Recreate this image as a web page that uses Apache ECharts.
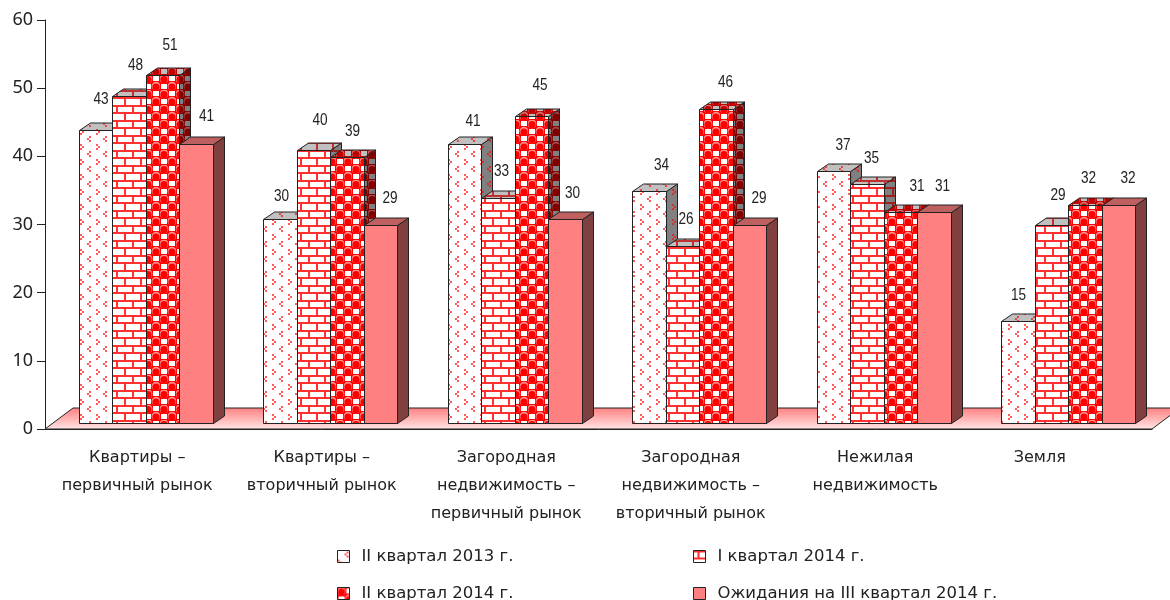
<!DOCTYPE html>
<html>
<head>
<meta charset="utf-8">
<style>
  html, body { margin: 0; padding: 0; background: #fff; }
  #chart { width: 1170px; height: 600px; }
</style>
<script src="https://cdn.jsdelivr.net/npm/echarts@6/dist/echarts.min.js"></script>
</head>
<body>
<div id="chart"></div>
<script>
const categories = [
  'Квартиры –\nпервичный рынок',
  'Квартиры –\nвторичный рынок',
  'Загородная\nнедвижимость –\nпервичный рынок',
  'Загородная\nнедвижимость –\nвторичный рынок',
  'Нежилая\nнедвижимость',
  'Земля'
];
const seriesNames = [
  'II квартал 2013 г.',
  'I квартал 2014 г.',
  'II квартал 2014 г.',
  'Ожидания на III квартал 2014 г.'
];
const q2y2013 = [43, 30, 41, 34, 37, 15];
const q1y2014 = [48, 40, 33, 26, 35, 29];
const q2y2014 = [51, 39, 45, 46, 31, 32];
const q3y2014 = [41, 29, 30, 29, 31, 32];
const yTicks = [0, 10, 20, 30, 40, 50, 60];

// сдвиг подписей от центра столбца, в оригинале они стоят неровно
const labelDx = [
  [5, 1, 8, 12, 9, 0],
  [6, 6, 3, 3, 4, 6],
  [7, 5, 8, 9, 16, 3],
  [10, 9, 7, 9, 8, 9]
];
const labelDy = [
  [-31, -23, -23, -26, -26, -26],
  [-31, -30, -27, -27, -26, -30],
  [-30, -26, -31, -27, -26, -27],
  [-28, -27, -26, -27, -26, -27]
];

const BAR_RATIO = 0.1815;   // ширина столбца к ширине категории
const GROUP_START = -58;    // начало группы от центра категории
const DEPTH_X = 11;
const DEPTH_Y = 7.5;
const FLOOR_RISE = 6;       // передний край столбцов выше оси
const FLOOR_DEPTH = 21;
const FLOOR_SKEW = 28;

function tile(w, h, draw) {
  const c = document.createElement('canvas');
  c.width = w;
  c.height = h;
  draw(c.getContext('2d'));
  return { image: c, repeat: 'repeat' };
}

function chevrons(bg, fg) {
  return tile(16, 15, (g) => {
    g.fillStyle = bg;
    g.fillRect(0, 0, 16, 15);
    g.fillStyle = fg;
    // три точки уголком влево и вправо
    g.fillRect(9, 1, 2, 2);
    g.fillRect(7, 3, 2, 2);
    g.fillRect(9, 5, 2, 2);
    g.fillRect(0, 9, 2, 2);
    g.fillRect(2, 11, 2, 2);
    g.fillRect(0, 13, 2, 2);
  });
}

function bricks(bg, fg) {
  return tile(16, 15, (g) => {
    g.fillStyle = bg;
    g.fillRect(0, 0, 16, 15);
    g.fillStyle = fg;
    g.fillRect(0, 0, 16, 2);
    g.fillRect(0, 7, 16, 2);
    g.fillRect(4, 2, 2, 5);
    g.fillRect(12, 9, 2, 6);
  });
}

function balls(square, fg, shine) {
  return tile(16, 15, (g) => {
    g.fillStyle = fg;
    g.fillRect(0, 0, 16, 15);
    g.fillStyle = square;
    g.fillRect(9, 1, 6, 5);
    g.fillRect(1, 9, 6, 5);
    [[4, 3.8], [12, 11.2]].forEach((p) => {
      g.fillStyle = shine;
      g.beginPath();
      g.arc(p[0], p[1], 4.4, 0, Math.PI * 2);
      g.fill();
      g.fillStyle = fg;
      g.beginPath();
      g.arc(p[0], p[1] + 0.8, 3.6, 0, Math.PI * 2);
      g.fill();
    });
  });
}

const faces = [
  { front: chevrons('#ffffff', '#ff5a5a'), top: chevrons('#c0c0c0', '#e04848'), side: chevrons('#808080', '#d03030') },
  { front: bricks('#ffffff', '#ff3030'), top: bricks('#c0c0c0', '#c03030'), side: bricks('#808080', '#a02020') },
  { front: balls('#ffffff', '#ff0000', '#ff9090'), top: balls('#c0c0c0', '#c00000', '#d87070'), side: balls('#808080', '#800000', '#a05050') },
  { front: '#ff8080', top: '#bf6060', side: '#804040' }
];

function barRenderer(seriesIndex) {
  return function (params, api) {
    const idx = api.value(0);
    const val = api.value(1);
    const center = api.coord([idx, 0])[0];
    const bandW = api.size([1, 0])[0];
    const w = bandW * BAR_RATIO;
    const x0 = Math.floor(center + GROUP_START + seriesIndex * w) + 0.5;
    const x1 = Math.floor(center + GROUP_START + (seriesIndex + 1) * w) + 0.5;
    const y0 = Math.round(api.coord([idx, 0])[1] - FLOOR_RISE) + 0.5;
    const y1 = Math.round(api.coord([idx, val])[1] - FLOOR_RISE) + 0.5;
    const line = { stroke: '#222', lineWidth: 1 };
    const f = faces[seriesIndex];
    return {
      type: 'group',
      children: [
        {
          type: 'polygon',
          shape: { points: [[x1, y0], [x1 + DEPTH_X, y0 - DEPTH_Y], [x1 + DEPTH_X, y1 - DEPTH_Y], [x1, y1]] },
          style: Object.assign({ fill: f.side }, line)
        },
        {
          type: 'polygon',
          shape: { points: [[x0, y1], [x1, y1], [x1 + DEPTH_X, y1 - DEPTH_Y], [x0 + DEPTH_X, y1 - DEPTH_Y]] },
          style: Object.assign({ fill: f.top }, line)
        },
        {
          type: 'rect',
          shape: { x: x0, y: y1, width: x1 - x0, height: y0 - y1 },
          style: Object.assign({ fill: f.front }, line)
        },
        {
          type: 'text',
          x: (x0 + x1) / 2 + labelDx[seriesIndex][idx],
          y: y1 + labelDy[seriesIndex][idx],
          scaleX: 0.85,
          style: {
            x: 0,
            y: 0,
            text: String(val),
            fill: '#222',
            font: '16px "Liberation Sans", sans-serif',
            align: 'center',
            verticalAlign: 'middle'
          }
        }
      ]
    };
  };
}

function floorRenderer(params) {
  const c = params.coordSys;
  const yb = c.y + c.height;
  return {
    type: 'polygon',
    shape: {
      points: [
        [c.x, yb],
        [c.x + FLOOR_SKEW, yb - FLOOR_DEPTH],
        [c.x + c.width + FLOOR_SKEW, yb - FLOOR_DEPTH],
        [c.x + c.width, yb]
      ]
    },
    style: {
      fill: new echarts.graphic.LinearGradient(0, 0, 0, 1, [
        { offset: 0, color: '#ff7f7f' },
        { offset: 1, color: '#ffe6e6' }
      ]),
      stroke: '#222',
      lineWidth: 1
    }
  };
}

const values = [q2y2013, q1y2014, q2y2014, q3y2014];

const barSeries = values.map((arr, i) => ({
  type: 'custom',
  name: seriesNames[i],
  coordinateSystem: 'cartesian2d',
  renderItem: barRenderer(i),
  encode: { x: 0, y: 1 },
  itemStyle: { color: faces[i].front },
  data: arr.map((v, k) => [k, v]),
  z: 3 + i
}));

function legendAt(i, left, top) {
  return {
    left: left,
    top: top,
    padding: 0,
    itemWidth: 12,
    itemHeight: 12,
    selectedMode: false,
    textStyle: { fontFamily: 'DejaVu Sans', fontSize: 16.5, color: '#222', padding: [0, 0, 0, 7] },
    data: [{
      name: seriesNames[i],
      icon: 'rect',
      itemStyle: { color: faces[i].front, borderColor: '#222', borderWidth: 1 }
    }]
  };
}

const option = {
  animation: false,
  backgroundColor: '#fff',
  grid: { left: 45, right: 18, top: 20, bottom: 171 },
  xAxis: {
    type: 'category',
    data: categories.map((name, i) => (
      i === categories.length - 1
        ? { value: name, textStyle: { padding: [0, 40, 0, 0] } }
        : name
    )),
    axisLine: { lineStyle: { color: '#222', width: 1 } },
    axisTick: { length: 7, lineStyle: { color: '#222' } },
    axisLabel: {
      interval: 0,
      margin: 15,
      fontFamily: 'DejaVu Sans',
      fontSize: 16,
      lineHeight: 28,
      color: '#222'
    }
  },
  yAxis: {
    type: 'value',
    min: yTicks[0],
    max: yTicks[yTicks.length - 1],
    interval: yTicks[1] - yTicks[0],
    splitLine: { show: false },
    axisLine: { show: true, lineStyle: { color: '#222', width: 1 } },
    axisTick: { show: true, length: 8, lineStyle: { color: '#222' } },
    axisLabel: { margin: 12, padding: [5, 0, 0, 0], fontFamily: 'Noto Sans', fontSize: 18, color: '#222' }
  },
  legend: [
    legendAt(0, 337, 548),
    legendAt(1, 693, 548),
    legendAt(2, 337, 585),
    legendAt(3, 693, 585)
  ],
  series: [
    {
      type: 'custom',
      name: 'floor',
      coordinateSystem: 'cartesian2d',
      renderItem: floorRenderer,
      data: [[0, 0]],
      silent: true,
      z: 1
    }
  ].concat(barSeries)
};

const chart = echarts.init(document.getElementById('chart'));
chart.setOption(option);
window.addEventListener('resize', () => chart.resize());
</script>
</body>
</html>
